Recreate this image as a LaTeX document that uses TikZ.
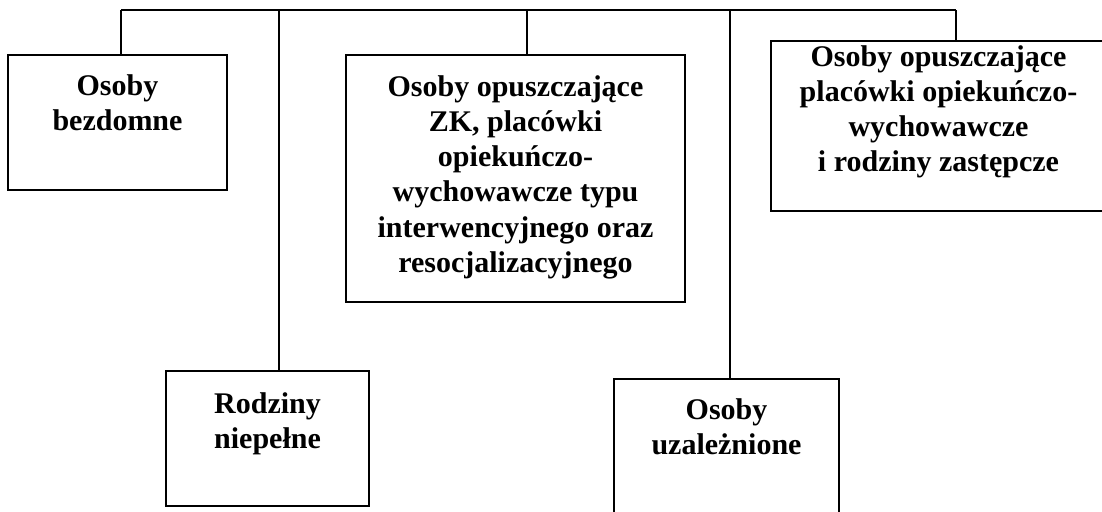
\documentclass[tikz,border=0pt]{standalone}
\usepackage{fontspec}
\setmainfont{Liberation Serif}
\usetikzlibrary{positioning,fit}

\begin{document}
\begin{tikzpicture}[x=0.5pt,y=-0.5pt,% one unit = one pixel of the reference
        line/.style={line width=1.1pt},
        box/.style={draw,line width=1.1pt,inner sep=0pt,outer sep=0pt},
        txt/.style={align=center,inner sep=0pt,font=\bfseries\fontsize{15pt}{17.6pt}\selectfont}]
\clip (0,0) rectangle (1102,511); % page size, boxes 4 and 5 run off the edge

% the five boxes
\node[box,fit={(8,55) (227,190)}] (b1) {};
\node[box,fit={(166,371) (369,506)}] (b2) {};
\node[box,fit={(346,55) (685,302)}] (b3) {};
\node[box,fit={(771,41) (1106,211)}] (b4) {};
\node[box,fit={(614,379) (839,560)}] (b5) {};

% texts, hung from the top edge of each box
\node[txt,below=9.5pt of b1.north] (b1text) {Osoby\\bezdomne};
\node[txt,below=10.5pt of b2.north] (b2text) {Rodziny\\niepełne};
\node[txt,below=10pt of b3.north] (b3text) {Osoby opuszczające\\ZK, placówki\\opiekuńczo-\\wychowawcze typu\\interwencyjnego oraz\\resocjalizacyjnego};
\node[txt,below=2pt of b4.north] (b4text) {Osoby opuszczające\\placówki opiekuńczo-\\wychowawcze\\i rodziny zastępcze};
\node[txt,below=9.5pt of b5.north] (b5text) {Osoby\\uzależnione};

% drop points on the top bus
\coordinate (t1) at (121,10);
\coordinate (t2) at (279,10);
\coordinate (t3) at (527,10);
\coordinate (t5) at (730,10);
\coordinate (t4) at (956,10);

\draw[line] (t1) -- (t4);
\foreach \b in {1,2,3,4,5}{ % one drop line per box
\draw[line] (t\b) -- (t\b |- b\b.north);
}
\end{tikzpicture}
\end{document}
